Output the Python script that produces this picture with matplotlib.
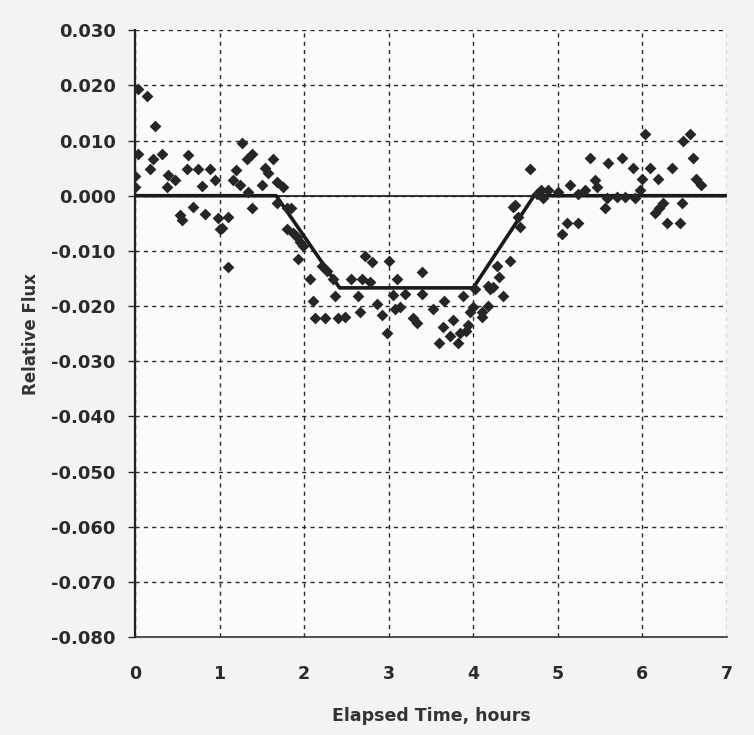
import matplotlib
matplotlib.use("Agg")
import matplotlib.pyplot as plt
from matplotlib.ticker import FormatStrFormatter

plt.rcParams['axes.unicode_minus'] = False
plt.rcParams['font.family'] = ['DejaVu Sans']

# Observed data (elapsed time in hours, relative flux)
time_h = [0.00, 0.00, 0.04, 0.04, 0.14, 0.24, 0.18, 0.21, 0.32, 0.38, 0.39, 0.47,
          0.53, 0.56, 0.61, 0.63, 0.69, 0.74, 0.79, 0.83, 0.89, 0.95, 0.98, 1.00,
          1.03, 1.10, 1.10, 1.16, 1.20, 1.24, 1.26, 1.33, 1.34, 1.38, 1.38, 1.50,
          1.54, 1.57, 1.63, 1.68, 1.68, 1.75, 1.80, 1.85, 1.80, 1.87, 1.92, 1.95,
          1.99, 1.93, 2.07, 2.10, 2.13, 2.21, 2.25, 2.27, 2.34, 2.36, 2.40, 2.48,
          2.56, 2.64, 2.66, 2.68, 2.72, 2.78, 2.80, 2.86, 2.92, 2.98, 3.01, 3.05,
          3.07, 3.10, 3.13, 3.19, 3.29, 3.33, 3.39, 3.40, 3.52, 3.60, 3.64, 3.66,
          3.72, 3.76, 3.82, 3.84, 3.88, 3.92, 3.94, 3.96, 4.00, 4.02, 4.10, 4.11,
          4.17, 4.17, 4.20, 4.23, 4.28, 4.31, 4.35, 4.43, 4.47, 4.53, 4.55, 4.49,
          4.67, 4.75, 4.82, 4.80, 4.88, 5.00, 5.05, 5.11, 5.14, 5.24, 5.24, 5.32,
          5.38, 5.44, 5.47, 5.56, 5.58, 5.59, 5.70, 5.76, 5.79, 5.89, 5.91, 5.97,
          6.00, 6.03, 6.09, 6.15, 6.19, 6.20, 6.24, 6.29, 6.35, 6.44, 6.47, 6.48,
          6.56, 6.60, 6.64, 6.69]
rel_flux = [0.0035, 0.0016, 0.0193, 0.0076, 0.0180, 0.0126, 0.0048, 0.0067, 0.0076, 0.0016, 0.0037, 0.0028,
            -0.0035, -0.0044, 0.0048, 0.0074, -0.0020, 0.0048, 0.0017, -0.0033, 0.0048, 0.0028, -0.0040, -0.0060,
            -0.0058, -0.0130, -0.0038, 0.0028, 0.0046, 0.0019, 0.0096, 0.0067, 0.0007, 0.0076, -0.0022, 0.0019,
            0.0050, 0.0042, 0.0067, 0.0025, -0.0013, 0.0016, -0.0022, -0.0022, -0.0060, -0.0067, -0.0075, -0.0083,
            -0.0092, -0.0115, -0.0151, -0.0190, -0.0222, -0.0128, -0.0222, -0.0137, -0.0151, -0.0181, -0.0222, -0.0220,
            -0.0151, -0.0181, -0.0210, -0.0151, -0.0110, -0.0157, -0.0121, -0.0196, -0.0217, -0.0249, -0.0119, -0.0180,
            -0.0205, -0.0151, -0.0201, -0.0178, -0.0222, -0.0231, -0.0178, -0.0139, -0.0205, -0.0267, -0.0237, -0.0190,
            -0.0254, -0.0226, -0.0267, -0.0249, -0.0181, -0.0246, -0.0235, -0.0210, -0.0201, -0.0169, -0.0219, -0.0210,
            -0.0199, -0.0163, -0.0169, -0.0165, -0.0128, -0.0148, -0.0181, -0.0119, -0.0020, -0.0038, -0.0056, -0.0017,
            0.0049, 0.0004, -0.0004, 0.0010, 0.0010, 0.0007, -0.0070, -0.0049, 0.0019, 0.0004, -0.0049, 0.0010,
            0.0069, 0.0028, 0.0016, -0.0022, -0.0004, 0.0060, -0.0002, 0.0069, -0.0002, 0.0050, -0.0004, 0.0010,
            0.0031, 0.0112, 0.0050, -0.0031, 0.0030, -0.0022, -0.0013, -0.0049, 0.0050, -0.0049, -0.0013, 0.0100,
            0.0112, 0.0069, 0.0031, 0.0019]

# Transit model
model_t = [0.0, 1.67, 2.42, 4.00, 4.72, 7.0]
model_f = [0.0, 0.0, -0.0167, -0.0167, 0.0, 0.0]

x_ticks = [0, 1, 2, 3, 4, 5, 6, 7]
y_ticks = [0.03, 0.02, 0.01, 0.0, -0.01, -0.02, -0.03, -0.04, -0.05, -0.06, -0.07, -0.08]

fig = plt.figure(figsize=(7.54, 7.35), dpi=100, facecolor='#f3f3f3')
ax = fig.add_axes([0.179, 0.133, 0.785, 0.826])
ax.set_facecolor('#fbfbfb')

ax.set_xlim(0, 7)
ax.set_ylim(-0.08, 0.03)
ax.set_xticks(x_ticks)
ax.set_yticks(y_ticks)
ax.yaxis.set_major_formatter(FormatStrFormatter('%.3f'))

ax.grid(True, color='#2a2a2a', linestyle=(0, (3, 3)), linewidth=1.0, zorder=1)
ax.axhline(0, color='#222222', linewidth=1.3, zorder=2)

ax.plot(model_t, model_f, color='#1a1a1a', linewidth=2.6, zorder=3, solid_capstyle='butt')
ax.scatter(time_h, rel_flux, marker='D', s=36, color='#262626', linewidths=0, zorder=4)

for s in ['top', 'right']:
    ax.spines[s].set_visible(False)
ax.spines['left'].set_linewidth(1.6)
ax.spines['left'].set_color('#222222')
ax.spines['bottom'].set_linewidth(1.2)
ax.spines['bottom'].set_color('#333333')

ax.tick_params(axis='y', direction='out', length=5, width=1, pad=9, labelsize=13, colors='#2a2a2a')
ax.tick_params(axis='x', direction='out', length=0, pad=20, labelsize=12.5, colors='#2a2a2a')
for lbl in ax.get_xticklabels() + ax.get_yticklabels():
    lbl.set_fontweight('bold')

ax.set_xlabel('Elapsed Time, hours', fontsize=12.5, fontweight='bold', color='#333333', labelpad=17)
ax.set_ylabel('Relative Flux', fontsize=12, fontweight='bold', color='#333333', labelpad=8)

fig.savefig('out.png', dpi=100, facecolor=fig.get_facecolor())
